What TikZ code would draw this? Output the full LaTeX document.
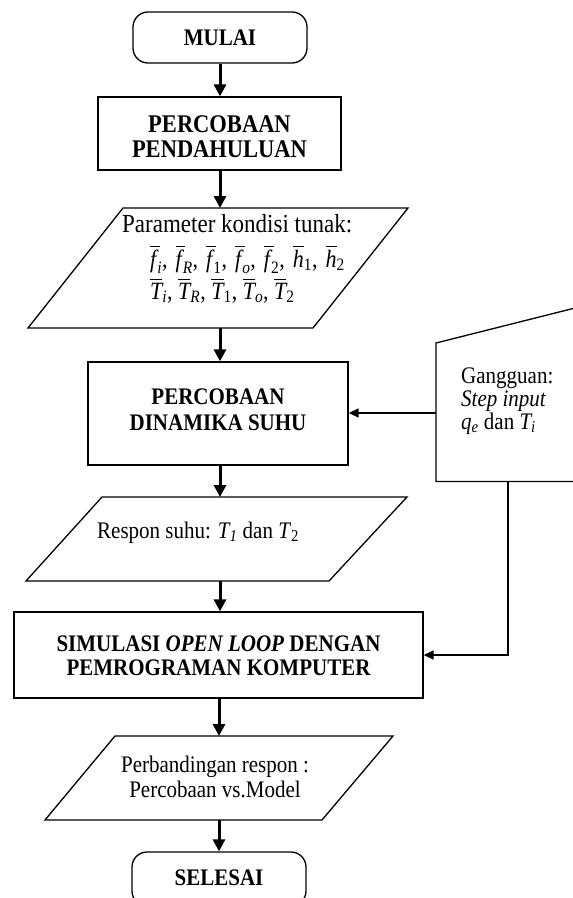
\documentclass[tikz,border=0pt]{standalone}
\usepackage{fontspec}
\setmainfont{Liberation Serif}
\usepackage{amsmath}
\usepackage{graphicx}
\usetikzlibrary{arrows.meta}
\newcommand{\vs}[1]{\scalebox{1}[1.13]{#1}}
\newcommand{\ob}[2]{$\overline{\text{\itshape #1}}_{\text{#2}}$}
\newcommand{\obf}[1]{$\overline{\text{\itshape f}\,}_{\!\text{#1}}$}
\newcommand{\csep}{,\kern2.5pt\ }
\begin{document}
\begin{tikzpicture}[x=1pt,y=-1pt,
  every node/.style={font=\fontsize{21}{26}\selectfont, inner sep=0pt},
  shape line/.style={line width=1.3pt},
  term/.style={shape line, draw, rounded corners=15pt, minimum width=174pt, minimum height=51pt},
  proc/.style={shape line, draw},
  lbl/.style={anchor=base},
  blbl/.style={anchor=base, font=\fontsize{21}{26}\selectfont\bfseries},
  flow/.style={line width=3pt, -{Triangle[width=12pt,length=12pt]}},
  side/.style={line width=1.5pt, -{Triangle[width=9pt,length=10pt]}}
]
\useasboundingbox (0,0) rectangle (573,898);
\clip (0,0) rectangle (573,898);

% start
\node[term] (mulai) at (220,37.5) {};
\node[blbl] (mulaiT) at (220,45) {\vs{MULAI}};

% preliminary experiment
\node[proc, minimum width=243pt, minimum height=73pt] (pend) at (219.5,133.5) {};
\node[blbl, font=\fontsize{22.5}{26}\selectfont\bfseries] (pend1) at (219.5,132) {\vs{PERCOBAAN}};
\node[blbl, font=\fontsize{22.5}{26}\selectfont\bfseries] (pend2) at (219.5,157) {\vs{PENDAHULUAN}};

% steady state parameters
\draw[shape line] (123,208) -- (408,208) -- (313,328) -- (28,328) -- cycle;
\coordinate (parT) at (220,208);
\coordinate (parB) at (220,328);
\node[anchor=base west, font=\fontsize{23}{26}\selectfont] (par1) at (122,232) {\vs{Parameter kondisi tunak:}};
\node[anchor=base west, font=\fontsize{22}{26}\selectfont] (par2) at (150,267) {\vs{\obf{\itshape i}\csep\obf{\itshape R}\csep\obf{1}\csep\obf{\itshape o}\csep\obf{2}\csep\ob{h}{1}\csep\ob{h}{2}}};
\node[anchor=base west, font=\fontsize{22}{26}\selectfont] (par3) at (150,299) {\vs{\ob{T}{\itshape i}, \ob{T}{\itshape R}, \ob{T}{1}, \ob{T}{\itshape o}, \ob{T}{2}}};

% temperature dynamics
\node[proc, minimum width=260pt, minimum height=103pt] (dyn) at (218,413.5) {};
\node[blbl] (dyn1) at (218,404) {\vs{PERCOBAAN}};
\node[blbl] (dyn2) at (218,430) {\vs{DINAMIKA SUHU}};

% disturbance
\draw[shape line] (575,308) -- (436,343) -- (436,481.5) -- (575,481.5);
\coordinate (gL) at (436,413);
\coordinate (gB) at (508,481.5);
\coordinate (gC) at (508,655);
\node[anchor=base west] (gang1) at (461,383) {\vs{Gangguan:}};
\node[anchor=base west] (gang2) at (461,406) {\vs{\textit{Step input}}};
\node[anchor=base west] (gang3) at (461,429) {\vs{\textit{q\textsubscript{e}} dan \textit{T\textsubscript{i}}}};

% response
\draw[shape line] (102,497) -- (407,497) -- (329,581) -- (26,581) -- cycle;
\coordinate (resT) at (220,497);
\coordinate (resB) at (220,581);
\node[anchor=base west] (res) at (97,538) {\vs{Respon suhu: \textit{T\textsubscript{1}} dan \textit{T}\textsubscript{2}}};

% simulation
\node[proc, minimum width=409pt, minimum height=86pt] (sim) at (218.5,655) {};
\node[blbl] (sim1) at (218.5,651) {\vs{SIMULASI \textit{OPEN LOOP} DENGAN}};
\node[blbl] (sim2) at (218.5,675) {\vs{PEMROGRAMAN KOMPUTER}};

% comparison
\draw[shape line] (115,736) -- (393,736) -- (322,820) -- (45,820) -- cycle;
\coordinate (cmpT) at (219,736);
\coordinate (cmpB) at (219,820);
\node[lbl] (cmp1) at (215,772) {\vs{Perbandingan respon :}};
\node[lbl] (cmp2) at (215,797) {\vs{Percobaan vs.Model}};

% end
\node[term, minimum height=54pt] (selesai) at (219,879) {};
\node[blbl] (selesaiT) at (219,885) {\vs{SELESAI}};

% connectors
\draw[flow] (mulai.south) -- (mulai.south |- pend.north);
\draw[flow] (pend.south -| parT) -- (parT);
\draw[flow] (parB) -- (parB |- dyn.north);
\draw[flow] (dyn.south -| resT) -- (resT);
\draw[flow] (resB) -- (resB |- sim.north);
\draw[flow] (sim.south -| cmpT) -- (cmpT);
\draw[flow] (cmpB) -- (cmpB |- selesai.north);
\draw[side] (gL) -- (gL -| dyn.east);
\draw[side] (gB) -- (gC) -- (gC -| sim.east);
\end{tikzpicture}
\end{document}
